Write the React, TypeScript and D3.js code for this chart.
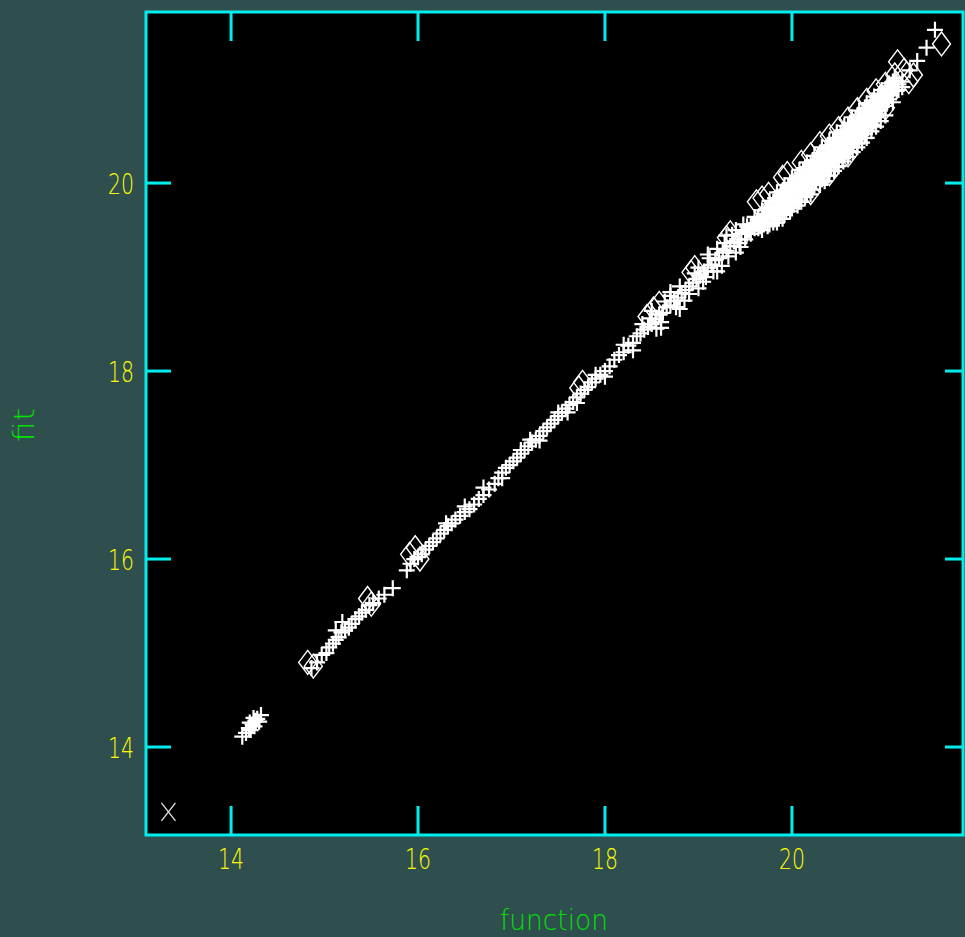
import React, { useMemo } from "react";
import * as d3 from "d3";

const WIDTH = 965;
const HEIGHT = 937;
const FRAME = { left: 146, right: 963, top: 12, bottom: 835 };

// tick values on both axes
const xTicks = [14, 16, 18, 20];
const yTicks = [14, 16, 18, 20];

// [function, fit] for the plus markers
const plusPoints: [number, number][] = [
  [14.12, 14.11], [14.16, 14.15], [14.19, 14.2], [14.21, 14.18], [14.23, 14.24], [14.25, 14.22],
  [14.26, 14.28], [14.28, 14.3], [14.3, 14.27], [14.32, 14.34], [14.2, 14.26], [14.24, 14.31],
  [14.86, 14.84], [14.92, 14.9], [14.97, 14.98], [15.02, 15.0], [15.05, 15.06], [15.09, 15.1],
  [15.12, 15.14], [15.15, 15.17], [15.18, 15.22], [15.22, 15.24], [15.26, 15.27], [15.29, 15.31],
  [15.33, 15.36], [15.37, 15.39], [15.4, 15.43], [15.44, 15.46], [15.48, 15.51], [15.52, 15.53],
  [15.58, 15.58], [15.64, 15.62], [15.73, 15.69], [15.19, 15.33], [15.12, 15.24],
  [15.88, 15.88], [15.92, 15.95], [15.96, 16.0], [16.0, 16.02], [16.04, 16.05], [16.08, 16.1],
  [16.12, 16.14], [16.16, 16.18], [16.2, 16.22], [16.24, 16.27], [16.28, 16.31], [16.32, 16.35],
  [16.36, 16.38], [16.4, 16.42], [16.45, 16.46], [16.5, 16.5], [16.55, 16.53], [16.6, 16.58],
  [16.65, 16.64], [16.7, 16.68], [16.76, 16.74], [16.82, 16.8], [16.86, 16.86], [16.9, 16.92],
  [16.94, 16.97], [16.98, 17.0], [17.02, 17.04], [17.06, 17.08], [17.1, 17.12], [17.14, 17.16],
  [17.18, 17.2], [17.22, 17.24], [17.26, 17.27], [17.3, 17.31], [17.34, 17.36], [17.38, 17.4],
  [17.42, 17.44], [17.46, 17.48], [17.5, 17.52], [17.54, 17.56], [17.58, 17.6], [17.62, 17.64],
  [17.66, 17.67], [17.7, 17.72], [17.74, 17.76], [17.78, 17.8], [17.82, 17.83], [17.86, 17.88],
  [17.9, 17.92], [17.95, 17.96], [18.0, 18.0], [18.05, 18.05],
  [16.3, 16.38], [16.5, 16.56], [16.7, 16.76], [16.9, 16.86], [17.1, 17.16], [17.3, 17.26],
  [17.5, 17.56], [17.7, 17.66], [17.9, 17.96], [18.0, 17.94], [17.2, 17.27], [17.6, 17.56],
  [18.1, 18.12], [18.15, 18.17], [18.2, 18.2], [18.25, 18.27], [18.3, 18.3], [18.34, 18.37],
  [18.38, 18.4], [18.42, 18.44], [18.46, 18.47], [18.5, 18.5], [18.54, 18.55], [18.58, 18.6],
  [18.62, 18.62], [18.66, 18.68], [18.7, 18.7], [18.74, 18.75], [18.78, 18.78], [18.82, 18.83],
  [18.86, 18.86], [18.9, 18.9], [18.94, 18.94], [18.98, 18.98], [19.02, 19.02], [19.06, 19.06],
  [19.1, 19.1], [19.14, 19.13], [19.18, 19.18], [19.22, 19.2], [19.26, 19.26], [19.3, 19.28],
  [19.34, 19.33], [19.38, 19.38], [19.42, 19.4], [19.46, 19.46], [19.5, 19.48],
  [18.4, 18.5], [18.55, 18.45], [18.7, 18.8], [18.85, 18.75], [19.0, 19.1], [19.05, 18.95],
  [19.2, 19.3], [19.25, 19.12], [19.4, 19.5], [19.45, 19.32],
  [18.2, 18.28], [18.3, 18.22], [18.48, 18.56], [18.6, 18.52], [18.64, 18.74], [18.76, 18.68],
  [18.8, 18.9], [18.9, 18.82], [18.96, 19.04], [19.08, 19.0], [19.12, 19.2], [19.16, 19.06],
  [19.28, 19.36], [19.32, 19.22], [19.36, 19.45], [19.44, 19.36], [19.48, 19.56], [19.5, 19.4],
  [18.6, 18.46], [18.8, 18.66], [19.0, 18.88], [19.2, 19.06], [19.4, 19.26], [18.5, 18.64],
  [18.7, 18.84], [19.1, 19.24], [19.3, 19.44],
  [19.52, 19.54], [19.52, 19.46], [19.56, 19.56], [19.56, 19.46], [19.6, 19.64], [19.6, 19.52],
  [19.64, 19.62], [19.64, 19.52], [19.68, 19.71], [19.68, 19.58], [19.68, 19.5], [19.72, 19.72],
  [19.72, 19.58], [19.76, 19.81], [19.76, 19.7], [19.76, 19.56], [19.8, 19.8], [19.8, 19.68],
  [19.8, 19.58], [19.84, 19.9], [19.84, 19.8], [19.84, 19.68], [19.84, 19.58], [19.88, 19.9],
  [19.88, 19.78], [19.88, 19.68], [19.92, 19.98], [19.92, 19.88], [19.92, 19.78], [19.92, 19.66],
  [19.96, 19.96], [19.96, 19.86], [19.96, 19.74], [20.0, 20.05], [20.0, 19.95], [20.0, 19.85],
  [20.0, 19.73], [20.04, 20.04], [20.04, 19.92], [20.04, 19.82], [20.08, 20.14], [20.08, 20.04],
  [20.08, 19.92], [20.08, 19.8], [20.12, 20.14], [20.12, 20.02], [20.12, 19.92], [20.16, 20.22],
  [20.16, 20.1], [20.16, 20.0], [20.16, 19.89], [20.2, 20.2], [20.2, 20.09], [20.2, 19.98],
  [20.24, 20.29], [20.24, 20.19], [20.24, 20.09], [20.24, 19.98], [20.28, 20.29], [20.28, 20.18],
  [20.28, 20.07], [20.32, 20.38], [20.32, 20.28], [20.32, 20.16], [20.32, 20.04], [20.36, 20.36],
  [20.36, 20.24], [20.36, 20.14], [20.4, 20.45], [20.4, 20.35], [20.4, 20.25], [20.4, 20.13],
  [20.44, 20.45], [20.44, 20.34], [20.44, 20.24], [20.48, 20.54], [20.48, 20.43], [20.48, 20.32],
  [20.48, 20.22], [20.52, 20.52], [20.52, 20.41], [20.52, 20.3], [20.56, 20.61], [20.56, 20.52],
  [20.56, 20.41], [20.56, 20.31], [20.6, 20.61], [20.6, 20.5], [20.6, 20.4], [20.64, 20.7],
  [20.64, 20.59], [20.64, 20.48], [20.64, 20.38], [20.68, 20.68], [20.68, 20.56], [20.68, 20.46],
  [20.72, 20.77], [20.72, 20.67], [20.72, 20.57], [20.72, 20.47], [20.76, 20.76], [20.76, 20.66],
  [20.76, 20.56], [20.8, 20.85], [20.8, 20.75], [20.8, 20.64], [20.8, 20.56], [20.84, 20.84],
  [20.84, 20.74], [20.84, 20.64], [20.88, 20.92], [20.88, 20.82], [20.88, 20.73], [20.88, 20.66],
  [20.92, 20.92], [20.92, 20.82], [20.92, 20.74], [20.96, 20.99], [20.96, 20.9], [20.96, 20.81],
  [21.0, 21.0], [21.0, 20.9], [21.0, 20.82], [21.04, 21.06], [21.04, 20.96], [21.04, 20.89],
  [21.08, 21.08], [21.08, 20.98], [21.12, 21.08], [21.12, 20.98], [21.18, 21.08], [21.18, 21.02],
  [21.26, 21.2], [21.34, 21.3], [21.44, 21.44], [21.53, 21.63],
  [19.54, 19.5], [19.58, 19.55], [19.62, 19.56], [19.66, 19.6], [19.66, 19.54], [19.7, 19.66],
  [19.7, 19.56], [19.74, 19.74], [19.74, 19.64], [19.74, 19.54], [19.78, 19.76], [19.78, 19.64],
  [19.82, 19.84], [19.82, 19.74], [19.82, 19.62], [19.86, 19.84], [19.86, 19.74], [19.86, 19.62],
  [19.9, 19.92], [19.9, 19.82], [19.9, 19.72], [19.9, 19.62], [19.94, 19.93], [19.94, 19.8],
  [19.94, 19.7], [19.98, 20.0], [19.98, 19.9], [19.98, 19.8], [19.98, 19.7], [20.02, 20.0],
  [20.02, 19.88], [20.02, 19.77], [20.06, 20.08], [20.06, 19.98], [20.06, 19.86], [20.06, 19.76],
  [20.1, 20.1], [20.1, 19.98], [20.1, 19.86], [20.14, 20.16], [20.14, 20.06], [20.14, 19.95],
  [20.14, 19.85], [20.18, 20.16], [20.18, 20.05], [20.18, 19.94], [20.22, 20.24], [20.22, 20.14],
  [20.22, 20.03], [20.22, 19.93], [20.26, 20.24], [20.26, 20.13], [20.26, 20.02], [20.3, 20.32],
  [20.3, 20.22], [20.3, 20.1], [20.3, 20.0], [20.34, 20.32], [20.34, 20.2], [20.34, 20.09],
  [20.38, 20.4], [20.38, 20.3], [20.38, 20.19], [20.38, 20.08], [20.42, 20.4], [20.42, 20.29],
  [20.42, 20.18], [20.46, 20.48], [20.46, 20.38], [20.46, 20.27], [20.46, 20.17], [20.5, 20.47],
  [20.5, 20.36], [20.5, 20.26], [20.54, 20.56], [20.54, 20.46], [20.54, 20.36], [20.54, 20.26],
  [20.58, 20.56], [20.58, 20.46], [20.58, 20.35], [20.62, 20.64], [20.62, 20.54], [20.62, 20.43],
  [20.62, 20.34], [20.66, 20.63], [20.66, 20.52], [20.66, 20.42], [20.7, 20.72], [20.7, 20.62],
  [20.7, 20.51], [20.7, 20.42], [20.74, 20.71], [20.74, 20.61], [20.74, 20.51], [20.78, 20.8],
  [20.78, 20.7], [20.78, 20.6], [20.78, 20.52], [20.82, 20.79], [20.82, 20.69], [20.82, 20.6],
  [20.86, 20.88], [20.86, 20.78], [20.86, 20.68], [20.86, 20.62], [20.9, 20.87], [20.9, 20.77],
  [20.9, 20.7], [20.94, 20.95], [20.94, 20.86], [20.94, 20.77], [20.98, 20.95], [20.98, 20.86],
  [21.02, 21.03], [21.02, 20.93], [21.02, 20.86], [21.06, 21.02], [21.06, 20.94], [21.1, 21.12],
  [21.1, 21.02], [21.14, 21.05], [21.14, 20.99],
  [20.1, 19.8], [20.2, 19.88], [20.3, 19.98], [20.35, 20.02], [20.4, 20.08], [20.45, 20.13],
  [20.5, 20.18], [20.55, 20.23], [20.6, 20.28], [20.65, 20.33], [20.7, 20.38], [20.75, 20.43],
  [20.8, 20.48], [20.85, 20.55], [20.9, 20.6], [20.95, 20.66], [21.0, 20.72], [21.08, 20.86],
];

// [function, fit] for the diamond markers
const diamondPoints: [number, number][] = [
  [14.82, 14.9], [14.88, 14.86], [15.46, 15.58], [15.5, 15.52], [15.91, 16.05], [15.97, 16.12],
  [16.02, 16.0], [17.72, 17.82], [17.76, 17.88], [18.45, 18.58], [18.52, 18.66], [18.58, 18.72],
  [18.92, 19.05], [18.96, 19.1], [19.3, 19.42], [19.34, 19.47], [19.62, 19.8], [19.68, 19.84],
  [19.75, 19.88], [19.9, 20.06], [19.95, 20.1], [20.1, 20.22], [20.2, 20.3], [20.3, 20.42],
  [20.4, 20.5], [20.5, 20.58], [20.6, 20.68], [20.7, 20.78], [20.8, 20.88], [20.9, 20.98],
  [21.0, 21.05], [21.1, 21.15], [21.13, 21.29], [21.2, 21.2], [21.3, 21.15], [21.25, 21.08],
  [21.6, 21.48], [20.2, 19.9], [20.4, 20.1], [20.6, 20.3], [21.0, 20.8],
];

// single cross marker in the lower-left corner
const crossPoints: [number, number][] = [[13.33, 13.31]];

const BG = "#2f4f4f";
const CYAN = "#00eded";
const YELLOW = "#ffff00";
const GREEN = "#00e000";
const FONT = "'DejaVu Sans ExtraLight', 'DejaVu Sans Light', 'DejaVu Sans', sans-serif";

const App = () => {
  const x = useMemo(
    () => d3.scaleLinear().domain([13.09, 21.83]).range([FRAME.left, FRAME.right]),
    []
  );
  const y = useMemo(
    () => d3.scaleLinear().domain([13.064, 21.82]).range([FRAME.bottom, FRAME.top]),
    []
  );

  const plusPath = (px: number, py: number) =>
    `M${px - 8},${py}H${px + 8}M${px},${py - 8}V${py + 8}`;
  const diamondPath = (px: number, py: number) =>
    `M${px},${py - 12}L${px + 9},${py}L${px},${py + 12}L${px - 9},${py}Z`;
  const crossPath = (px: number, py: number) =>
    `M${px - 7},${py - 9}L${px + 7},${py + 9}M${px + 7},${py - 9}L${px - 7},${py + 9}`;

  return (
    <svg
      width={WIDTH}
      height={HEIGHT}
      style={{ position: "absolute", left: 0, top: 0, display: "block" }}
    >
      <rect width={WIDTH} height={HEIGHT} fill={BG} />
      <rect
        x={FRAME.left}
        y={FRAME.top}
        width={FRAME.right - FRAME.left}
        height={FRAME.bottom - FRAME.top}
        fill="#000"
      />

      <g fill="none" stroke="#fff">
        {diamondPoints.map((d, i) => (
          <path key={"d" + i} d={diamondPath(x(d[0]), y(d[1]))} strokeWidth={1.4} />
        ))}
        {plusPoints.map((d, i) => (
          <path key={"p" + i} d={plusPath(x(d[0]), y(d[1]))} strokeWidth={2.2} />
        ))}
        {crossPoints.map((d, i) => (
          <path key={"c" + i} d={crossPath(x(d[0]), y(d[1]))} stroke="#ddd" strokeWidth={1.4} />
        ))}
      </g>

      {/* frame and ticks */}
      <g stroke={CYAN} strokeWidth={3} fill="none">
        <rect
          x={FRAME.left}
          y={FRAME.top}
          width={FRAME.right - FRAME.left}
          height={FRAME.bottom - FRAME.top}
        />
        {xTicks.map((t) => (
          <g key={"xt" + t}>
            <line x1={x(t)} x2={x(t)} y1={FRAME.bottom} y2={FRAME.bottom - 29} />
            <line x1={x(t)} x2={x(t)} y1={FRAME.top} y2={FRAME.top + 29} />
          </g>
        ))}
        {yTicks.map((t) => (
          <g key={"yt" + t}>
            <line x1={FRAME.left} x2={FRAME.left + 25} y1={y(t)} y2={y(t)} />
            <line x1={FRAME.right} x2={FRAME.right - 18} y1={y(t)} y2={y(t)} />
          </g>
        ))}
      </g>

      {/* tick labels */}
      <g fill={YELLOW} fontFamily={FONT} fontWeight={200} fontSize={29}>
        {xTicks.map((t) => (
          <text
            key={"xl" + t}
            x={x(t) - 13}
            y={869}
            textLength={26}
            lengthAdjust="spacingAndGlyphs"
          >
            {t}
          </text>
        ))}
        {yTicks.map((t) => (
          <text
            key={"yl" + t}
            x={108}
            y={y(t) + 11}
            textLength={26}
            lengthAdjust="spacingAndGlyphs"
          >
            {t}
          </text>
        ))}
      </g>

      {/* axis titles */}
      <g fill={GREEN} fontFamily={FONT} fontWeight={200} fontSize={28}>
        <text x={500} y={930} textLength={108} lengthAdjust="spacingAndGlyphs">
          function
        </text>
        <text
          transform="translate(34,442) rotate(-90)"
          textLength={34}
          lengthAdjust="spacingAndGlyphs"
        >
          fit
        </text>
      </g>
    </svg>
  );
};

export default App;
